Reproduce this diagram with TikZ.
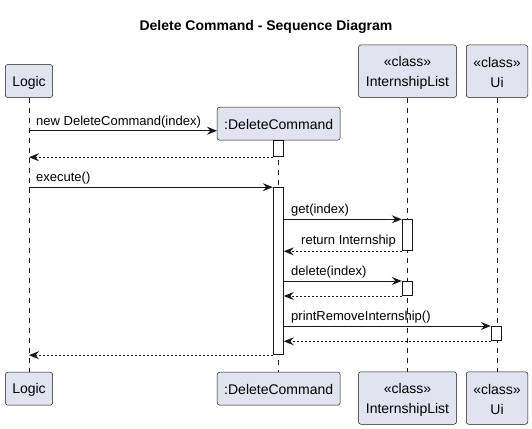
\documentclass[tikz,border=0pt]{standalone}
\usepackage{fontspec}
\setmainfont{Liberation Sans}
\usetikzlibrary{arrows.meta}
\definecolor{partfill}{HTML}{E2E2F0}
\definecolor{ink}{HTML}{181818}

\begin{document}
\begin{tikzpicture}[x=1pt,y=-1pt,
  participant/.style={draw=ink, line width=0.5pt, fill=partfill, rounded corners=2.5pt, inner sep=0pt},
  ptext/.style={font=\fontsize{14}{20}\selectfont, align=center, inner sep=0pt},
  lifeline/.style={draw=ink, line width=0.5pt, dash pattern=on 5pt off 5pt},
  actbar/.style={draw=ink, fill=white, line width=1pt, minimum width=10pt, inner sep=0pt, anchor=north},
  msg/.style={draw=ink, line width=1pt, -{Stealth[length=10pt,width=8pt,inset=3.5pt]}},
  ret/.style={msg, dash pattern=on 2pt off 2pt},
  lbl/.style={font=\fontsize{13}{15}\selectfont, anchor=base west, inner sep=0pt},
]
% canvas
\path[use as bounding box, fill=white] (0,0) rectangle (532,428);

% title
\node[font=\fontsize{14}{16}\bfseries\selectfont] (title) at (266,27) {Delete Command - Sequence Diagram};

% participant boxes (head and foot)
\node[participant, minimum width=47.2pt, minimum height=33pt] (logicTop) at (29,81) {};
\node[participant, minimum width=47.2pt, minimum height=33pt] (logicBot) at (29,388.7) {};
\node[participant, minimum width=123pt, minimum height=33pt] (dcTop) at (278.7,123.7) {};
\node[participant, minimum width=123pt, minimum height=33pt] (dcBot) at (278.7,388.7) {};
\node[participant, minimum width=98pt, minimum height=52.5pt] (ilTop) at (407.5,71.2) {};
\node[participant, minimum width=98pt, minimum height=52.5pt] (ilBot) at (407.5,398) {};
\node[participant, minimum width=61.5pt, minimum height=52.5pt] (uiTop) at (497,71.2) {};
\node[participant, minimum width=61.5pt, minimum height=52.5pt] (uiBot) at (497,398) {};

% participant names
\node[ptext] (logicTopTxt) at ([yshift=-1.5pt]logicTop.center) {Logic};
\node[ptext] (logicBotTxt) at ([yshift=-1.5pt]logicBot.center) {Logic};
\node[ptext] (dcTopTxt) at ([yshift=-0.5pt]dcTop.center) {:DeleteCommand};
\node[ptext] (dcBotTxt) at ([yshift=-0.5pt]dcBot.center) {:DeleteCommand};
\node[ptext] (ilTopTxt) at ([yshift=-2pt]ilTop.center) {«class»\\InternshipList};
\node[ptext] (ilBotTxt) at ([yshift=-2pt]ilBot.center) {«class»\\InternshipList};
\node[ptext] (uiTopTxt) at ([yshift=-1pt]uiTop.center) {«class»\\Ui};
\node[ptext] (uiBotTxt) at ([yshift=-1pt]uiBot.center) {«class»\\Ui};

% lifelines
\draw[lifeline] (logicTop.south) -- (logicBot.north);
\draw[lifeline] (dcTop.south) -- (dcBot.north);
\draw[lifeline] (ilTop.south) -- (ilBot.north);
\draw[lifeline] (uiTop.south) -- (uiBot.north);

% activation bars
\node[actbar, minimum height=16pt] (bar1) at (278.3,140.2) {};
\node[actbar, minimum height=167pt] (bar2) at (278.3,187.2) {};
\node[actbar, minimum height=31pt] (bar3) at (407.3,219.3) {};
\node[actbar, minimum height=14pt] (bar4) at (407.3,281) {};
\node[actbar, minimum height=14.3pt] (bar5) at (496.3,326) {};

% points on the Logic lifeline where calls start
\coordinate (logicNew) at (logicTop.south |- 0,130.7);
\coordinate (logicExec) at (logicTop.south |- 0,187.2);

% messages
\draw[msg] (logicNew) -- (logicNew -| dcTop.west);
\node[lbl] (lNew) at (36,125.2) {new DeleteCommand(index)};

\draw[ret] (bar1.south west) -- (bar1.south west -| logicTop.south);

\draw[msg] (logicExec) -- (bar2.north west);
\node[lbl] (lExec) at (36,181.7) {execute()};

\draw[msg] (bar3.north west -| bar2.east) -- (bar3.north west);
\node[lbl] (lGet) at (291,213.8) {get(index)};

\draw[ret] (bar3.south west) -- (bar3.south west -| bar2.east);
\node[lbl] (lRet) at (301,244.8) {return Internship};

\draw[msg] (bar4.north west -| bar2.east) -- (bar4.north west);
\node[lbl] (lDel) at (291,275.5) {delete(index)};

\draw[ret] (bar4.south west) -- (bar4.south west -| bar2.east);

\draw[msg] (bar5.north west -| bar2.east) -- (bar5.north west);
\node[lbl] (lPrint) at (291,320.5) {printRemoveInternship()};

\draw[ret] (bar5.south west) -- (bar5.south west -| bar2.east);

\draw[ret] (bar2.south west) -- (bar2.south west -| logicTop.south);
\end{tikzpicture}
\end{document}
